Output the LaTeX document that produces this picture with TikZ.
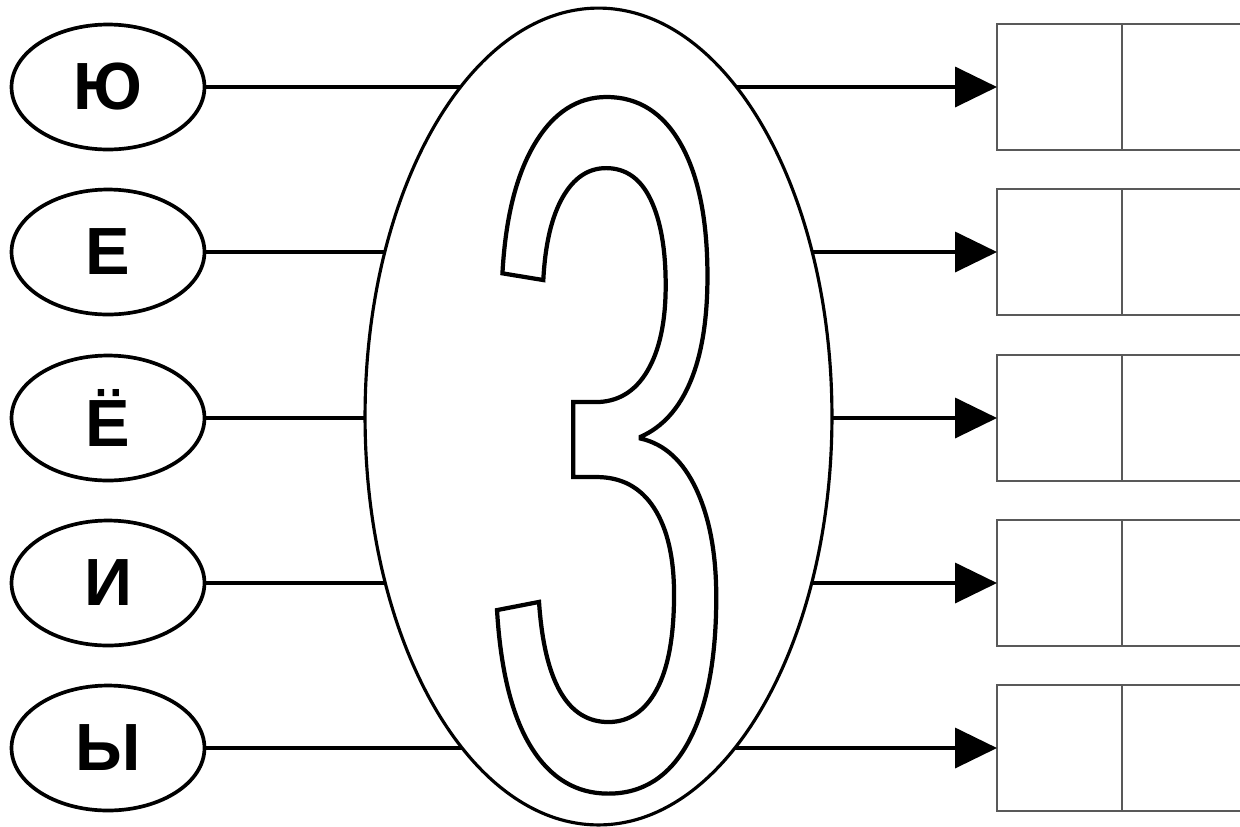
\documentclass[tikz,border=0pt]{standalone}
\usepackage{fontspec}
\setmainfont{Liberation Sans}
\newfontfamily\digitfont[FakeStretch=0.47]{Liberation Sans}
\usetikzlibrary{shapes.geometric,arrows.meta}
\newcommand{\hollow}[1]{\special{pdf:code 1 Tr 2.4 w}#1\special{pdf:code 0 Tr}}
\begin{document}
\begin{tikzpicture}[x=0.02cm,y=-0.02cm,>={Triangle[length=0.84cm,width=0.8cm]}]
  \tikzstyle{letter}=[draw, ellipse, line width=2.1pt, minimum width=3.86cm, minimum height=2.5cm,
    inner sep=0pt, font=\bfseries\fontsize{38}{38}\selectfont]
  \tikzstyle{cell}=[draw=black!65, line width=0.9pt, minimum width=2.5cm, minimum height=2.52cm,
    inner sep=0pt, outer sep=0pt]
  \tikzstyle{conn}=[->, line width=2.1pt]

  \useasboundingbox (0,0) rectangle (1240,826);
  \clip (0,0) rectangle (1240,826);

  \foreach \y/\t/\n in {87/Ю/1,252/Е/2,418/Ё/3,583/И/4,748/Ы/5} {
    \node[letter] (l\n) at (108,\y) {\t};
    \node[cell, anchor=west] (a\n) at (997,\y) {};
    \node[cell, anchor=west] (b\n) at (a\n.east) {};
    \draw[conn] (l\n) -- (a\n);
  }

  \node[draw, ellipse, fill=white, line width=1.8pt, minimum width=9.34cm, minimum height=16.34cm,
    inner sep=0pt] (ring) at (598.5,416.5) {};
  \node[anchor=base, inner sep=0pt, font=\digitfont\fontsize{560}{560}\selectfont] (three)
    at (608,784) {\hollow{3}};
\end{tikzpicture}
\end{document}
